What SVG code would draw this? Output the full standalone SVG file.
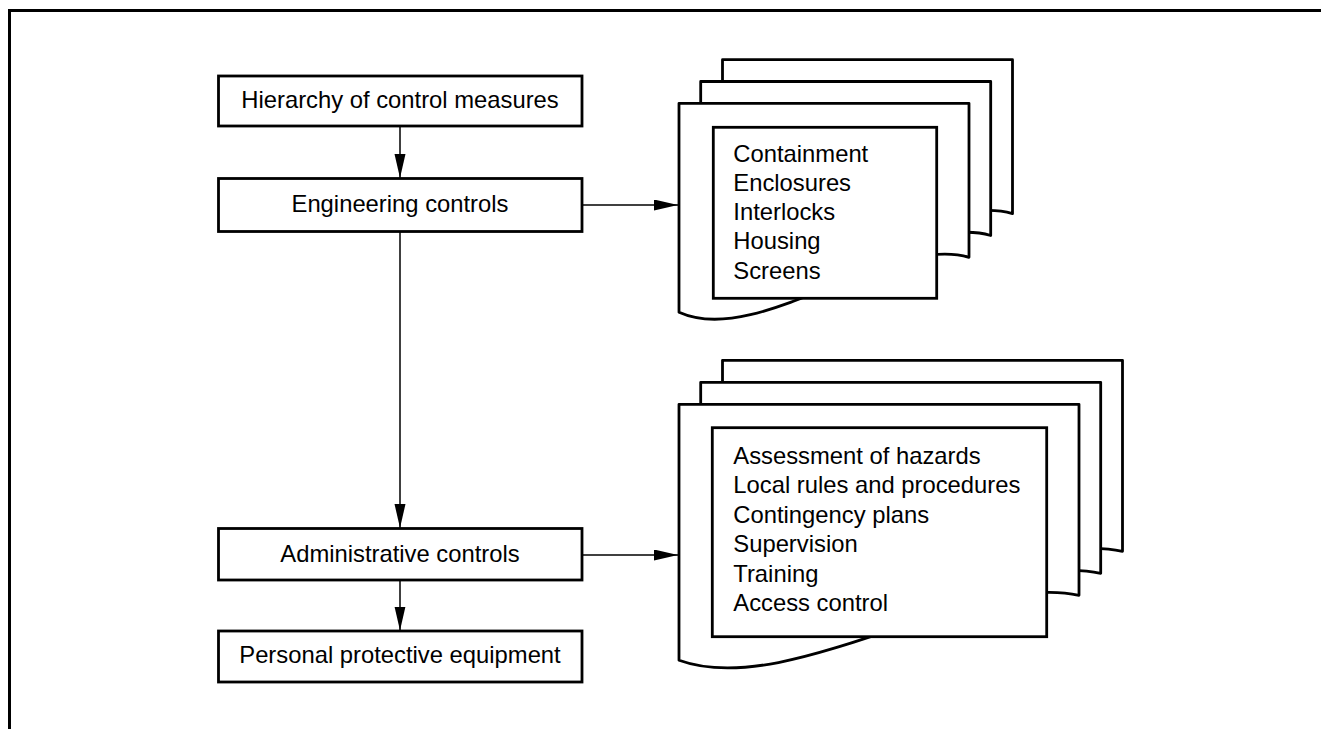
<svg xmlns="http://www.w3.org/2000/svg" width="1321" height="729" viewBox="0 0 1321 729">
  <style>
    .frame { fill: none; stroke: #000; stroke-width: 3; }
    .box { fill: #fff; stroke: #000; stroke-width: 2.8; }
    .doc { fill: #fff; stroke: #000; stroke-width: 2.8; stroke-linejoin: round; }
    .inner { fill: #fff; stroke: #000; stroke-width: 2.8; }
    .lbl { font-family: "Liberation Sans", Arial, sans-serif; font-size: 23.8px; fill: #000; }
    .mid { text-anchor: middle; }
    .edge { fill: none; stroke: #000; stroke-width: 1.5; }
  </style>
  <defs>
    <marker id="arrow" markerUnits="userSpaceOnUse" markerWidth="25" markerHeight="12" refX="24" refY="5.5" orient="auto">
      <path d="M0,0 L24,5.5 L0,11 Z" fill="#000"/>
    </marker>
    <!-- document outline with wavy bottom, width 290 -->
    <path id="docSmall" d="M0,0 H290 V154 C210,130 80,245 0,209 Z"/>
    <!-- document outline with wavy bottom, width 400 -->
    <path id="docLarge" d="M0,0 H400 V191 C290,167 110,296 0,256 Z"/>
  </defs>

  <rect width="1321" height="729" fill="#fff"/>

  <!-- page border (open at right and bottom) -->
  <path class="frame" d="M9.5,729 V10.5 H1321"/>

  <!-- connectors -->
  <g id="connectors">
    <line class="edge" x1="400" y1="126" x2="400" y2="178" marker-end="url(#arrow)"/>
    <line class="edge" x1="400" y1="231.5" x2="400" y2="528" marker-end="url(#arrow)"/>
    <line class="edge" x1="400" y1="580" x2="400" y2="630.5" marker-end="url(#arrow)"/>
    <line class="edge" x1="582" y1="205" x2="678" y2="205" marker-end="url(#arrow)"/>
    <line class="edge" x1="582" y1="555" x2="678" y2="555" marker-end="url(#arrow)"/>
  </g>

  <!-- left column -->
  <g id="hierarchy">
    <rect class="box" x="218.5" y="76" width="363.5" height="50"/>
    <text class="lbl mid" x="400" y="107.5">Hierarchy of control measures</text>
  </g>
  <g id="engineering">
    <rect class="box" x="218.5" y="178.5" width="363.5" height="53"/>
    <text class="lbl mid" x="400" y="211.7">Engineering controls</text>
  </g>
  <g id="administrative">
    <rect class="box" x="218.5" y="528.5" width="363.5" height="51.5"/>
    <text class="lbl mid" x="400" y="561.7">Administrative controls</text>
  </g>
  <g id="ppe">
    <rect class="box" x="218.5" y="631" width="363.5" height="51"/>
    <text class="lbl mid" x="400" y="663.3">Personal protective equipment</text>
  </g>

  <!-- engineering measures: stacked documents -->
  <g id="engineering-measures">
    <use href="#docSmall" class="doc" transform="translate(722.5,59.7)"/>
    <use href="#docSmall" class="doc" transform="translate(700.7,81.5)"/>
    <use href="#docSmall" class="doc" transform="translate(679,103.3)"/>
    <rect class="inner" x="713.3" y="127.3" width="223.4" height="171"/>
    <text class="lbl" x="733.3" y="161.7">Containment</text>
    <text class="lbl" x="733.3" y="190.9">Enclosures</text>
    <text class="lbl" x="733.3" y="220.1">Interlocks</text>
    <text class="lbl" x="733.3" y="249.3">Housing</text>
    <text class="lbl" x="733.3" y="278.5">Screens</text>
  </g>

  <!-- administrative measures: stacked documents -->
  <g id="administrative-measures">
    <use href="#docLarge" class="doc" transform="translate(722.5,360.3)"/>
    <use href="#docLarge" class="doc" transform="translate(700.7,382.3)"/>
    <use href="#docLarge" class="doc" transform="translate(679,404.3)"/>
    <rect class="inner" x="712.3" y="427.7" width="334.4" height="209"/>
    <text class="lbl" x="733.3" y="464">Assessment of hazards</text>
    <text class="lbl" x="733.3" y="493.4">Local rules and procedures</text>
    <text class="lbl" x="733.3" y="522.8">Contingency plans</text>
    <text class="lbl" x="733.3" y="552.2">Supervision</text>
    <text class="lbl" x="733.3" y="581.6">Training</text>
    <text class="lbl" x="733.3" y="611">Access control</text>
  </g>
</svg>
